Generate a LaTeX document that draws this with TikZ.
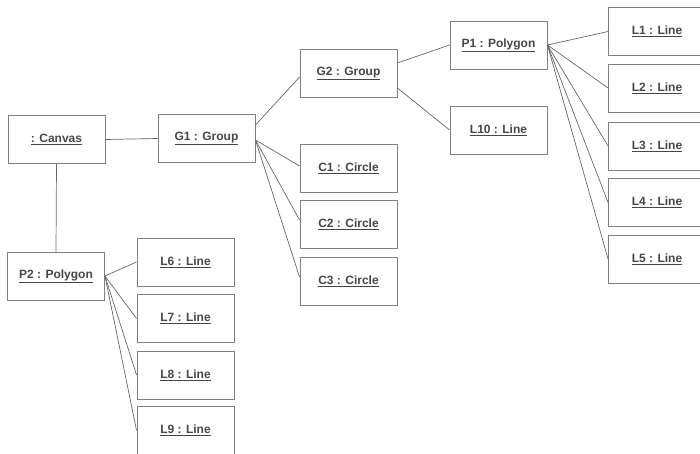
\documentclass[tikz,border=0pt]{standalone}
\usepackage{fontspec}
\setmainfont{Liberation Sans}
\begin{document}
\begin{tikzpicture}[x=1pt,y=-1pt,
  obj/.style={draw=black!50, line width=0.9pt, fill=white,
    minimum width=97pt, minimum height=48pt, inner sep=0pt,
    text=black!72, font=\bfseries\fontsize{12}{14}\selectfont},
  link/.style={draw=black!60, line width=0.7pt}]
\useasboundingbox (0,0) rectangle (700,454);

% title line, only its lowest strip falls inside the page
\node[anchor=base west, inner sep=0pt, text=black!85,
  font=\fontsize{20}{24}\selectfont] (title) at (183,-14)
  {Version (with named object of a class name)};

% object boxes
\node[obj] (canvas) at (56.5,139.5) {\underline{: Canvas}};
\node[obj] (g1) at (206.5,138.5) {\underline{G1 : Group}};
\node[obj] (g2) at (348.5,73.5) {\underline{G2 : Group}};
\node[obj] (p1) at (498.5,45) {\underline{P1 : Polygon}};
\node[obj] (l10) at (498.5,130) {\underline{L10 : Line}};
\node[obj] (c1) at (348.5,168) {\underline{C1 : Circle}};
\node[obj] (c2) at (348.5,224) {\underline{C2 : Circle}};
\node[obj] (c3) at (348.5,281) {\underline{C3 : Circle}};
\node[obj] (l1) at (657,31.5) {\underline{L1 : Line}};
\node[obj] (l2) at (657,88) {\underline{L2 : Line}};
\node[obj] (l3) at (657,146) {\underline{L3 : Line}};
\node[obj] (l4) at (657,202.5) {\underline{L4 : Line}};
\node[obj] (l5) at (657,259) {\underline{L5 : Line}};
\node[obj] (p2) at (56,276) {\underline{P2 : Polygon}};
\node[obj] (l6) at (185.5,262) {\underline{L6 : Line}};
\node[obj] (l7) at (185.5,318.5) {\underline{L7 : Line}};
\node[obj] (l8) at (185.5,375) {\underline{L8 : Line}};
\node[obj] (l9) at (185.5,430.5) {\underline{L9 : Line}};

% links
\draw[link] (canvas.east) -- (g1.west);
\draw[link] (canvas.south) -- (p2.north);
\draw[link] ([yshift=13.5pt]g1.east) -- ([yshift=-3.5pt]g2.west);
\draw[link] ([yshift=-1.5pt]g1.east) -- ([yshift=2pt]c1.west);
\draw[link] ([yshift=-1.5pt]g1.east) -- ([yshift=4pt]c2.west);
\draw[link] ([yshift=-1.5pt]g1.east) -- ([yshift=4pt]c3.west);
\draw[link] ([yshift=10.5pt]g2.east) -- (p1.west);
\draw[link] ([yshift=-14.5pt]g2.east) -- (l10.west);
\foreach \n in {l1,l2,l3,l4,l5}
  \draw[link] (p1.east) -- (\n.west);
\foreach \n in {l6,l7,l8,l9}
  \draw[link] (p2.east) -- (\n.west);
\end{tikzpicture}
\end{document}
